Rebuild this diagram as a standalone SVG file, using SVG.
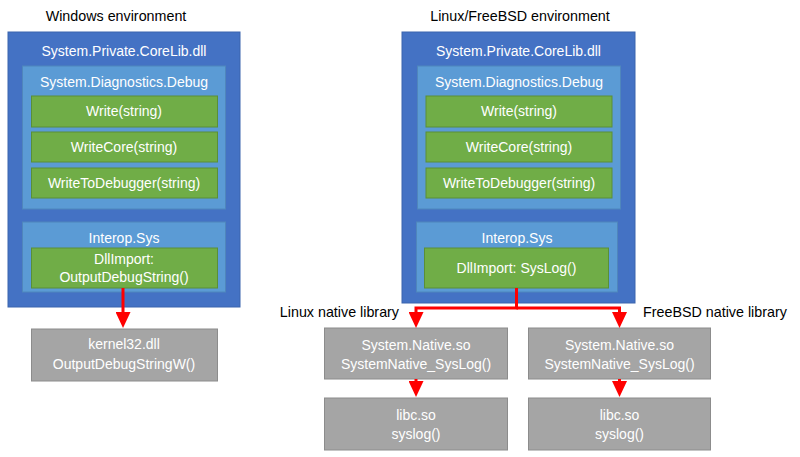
<svg xmlns="http://www.w3.org/2000/svg" width="800" height="457" viewBox="0 0 800 457">
<defs>
<style>
text{font-family:"Liberation Sans",Arial,sans-serif;font-size:14px;fill:#fff;text-anchor:middle}
text.lbl{fill:#000;font-size:14.3px}
.outer{fill:#4472C4;stroke:#3A64AE;stroke-width:1}
.inner{fill:#5B9BD5;stroke:#4F86BC;stroke-width:1}
.green{fill:#70AD47;stroke:#5A8F37;stroke-width:1}
.gray{fill:#A5A5A5;stroke:#8C8C8C;stroke-width:1}
.conn{fill:none;stroke:#FF0000;stroke-width:3;stroke-linejoin:miter}
</style>
<marker id="arr" viewBox="0 0 16 15" refX="6" refY="7.5" markerWidth="16" markerHeight="15" markerUnits="userSpaceOnUse" orient="auto">
<path d="M0,0 L16,7.5 L0,15 z" fill="#FF0000"/>
</marker>
</defs>
<rect width="800" height="457" fill="#fff"/>

<text class="lbl" x="116" y="21">Windows environment</text>
<text class="lbl" x="520" y="21">Linux/FreeBSD environment</text>
<text class="lbl" x="399" y="317" style="text-anchor:end">Linux native library</text>
<text class="lbl" x="643" y="317" style="text-anchor:start">FreeBSD native library</text>

<g id="win-corelib">
<rect class="outer" x="8" y="32" width="232" height="275"/>
<text x="124" y="56">System.Private.CoreLib.dll</text>
</g>
<g id="win-debug">
<rect class="inner" x="22.5" y="66" width="203" height="143"/>
<text x="124" y="87">System.Diagnostics.Debug</text>
</g>
<g id="win-write">
<rect class="green" x="31.5" y="96" width="186" height="31"/>
<text x="124" y="116">Write(string)</text>
</g>
<g id="win-writecore">
<rect class="green" x="31.5" y="132" width="186" height="30"/>
<text x="124" y="152">WriteCore(string)</text>
</g>
<g id="win-writetodebugger">
<rect class="green" x="31.5" y="168" width="186" height="30"/>
<text x="124" y="188">WriteToDebugger(string)</text>
</g>
<g id="win-interop">
<rect class="inner" x="22.5" y="222" width="203" height="70"/>
<text x="124" y="243">Interop.Sys</text>
</g>
<g id="win-dllimport">
<rect class="green" x="31.5" y="248" width="186" height="40"/>
<text x="124" y="264">DllImport:</text>
<text x="124" y="282">OutputDebugString()</text>
</g>
<g id="kernel32">
<rect class="gray" x="31.5" y="329" width="186" height="52"/>
<text x="124" y="349">kernel32.dll</text>
<text x="124" y="369">OutputDebugStringW()</text>
</g>

<g id="lin-corelib">
<rect class="outer" x="402" y="32" width="233" height="271"/>
<text x="518.5" y="56">System.Private.CoreLib.dll</text>
</g>
<g id="lin-debug">
<rect class="inner" x="417.5" y="66" width="203" height="143"/>
<text x="519" y="87">System.Diagnostics.Debug</text>
</g>
<g id="lin-write">
<rect class="green" x="426" y="96" width="186" height="31"/>
<text x="519" y="116">Write(string)</text>
</g>
<g id="lin-writecore">
<rect class="green" x="426" y="132" width="186" height="30"/>
<text x="519" y="152">WriteCore(string)</text>
</g>
<g id="lin-writetodebugger">
<rect class="green" x="426" y="168" width="186" height="30"/>
<text x="519" y="188">WriteToDebugger(string)</text>
</g>
<g id="lin-interop">
<rect class="inner" x="416.5" y="222" width="201" height="70"/>
<text x="517" y="243">Interop.Sys</text>
</g>
<g id="lin-dllimport">
<rect class="green" x="424.5" y="248" width="184" height="40"/>
<text x="516.5" y="273">DllImport: SysLog()</text>
</g>

<g id="linux-native">
<rect class="gray" x="324.5" y="328" width="183" height="51"/>
<text x="416" y="350">System.Native.so</text>
<text x="416" y="369">SystemNative_SysLog()</text>
</g>
<g id="linux-libc">
<rect class="gray" x="324.5" y="398" width="183" height="52"/>
<text x="416" y="420">libc.so</text>
<text x="416" y="439">syslog()</text>
</g>
<g id="freebsd-native">
<rect class="gray" x="528.5" y="328" width="182" height="51"/>
<text x="619.5" y="350">System.Native.so</text>
<text x="619.5" y="369">SystemNative_SysLog()</text>
</g>
<g id="freebsd-libc">
<rect class="gray" x="528.5" y="398" width="182" height="52"/>
<text x="619.5" y="420">libc.so</text>
<text x="619.5" y="439">syslog()</text>
</g>

<g id="connectors">
<path class="conn" d="M123,288 V318" marker-end="url(#arr)"/>
<path class="conn" d="M516.5,288 V308 H416 V318" marker-end="url(#arr)"/>
<path class="conn" d="M516.5,308 H619.5 V318" marker-end="url(#arr)"/>
<path class="conn" d="M416,379 V387" marker-end="url(#arr)"/>
<path class="conn" d="M619.5,379 V387" marker-end="url(#arr)"/>
</g>
</svg>
